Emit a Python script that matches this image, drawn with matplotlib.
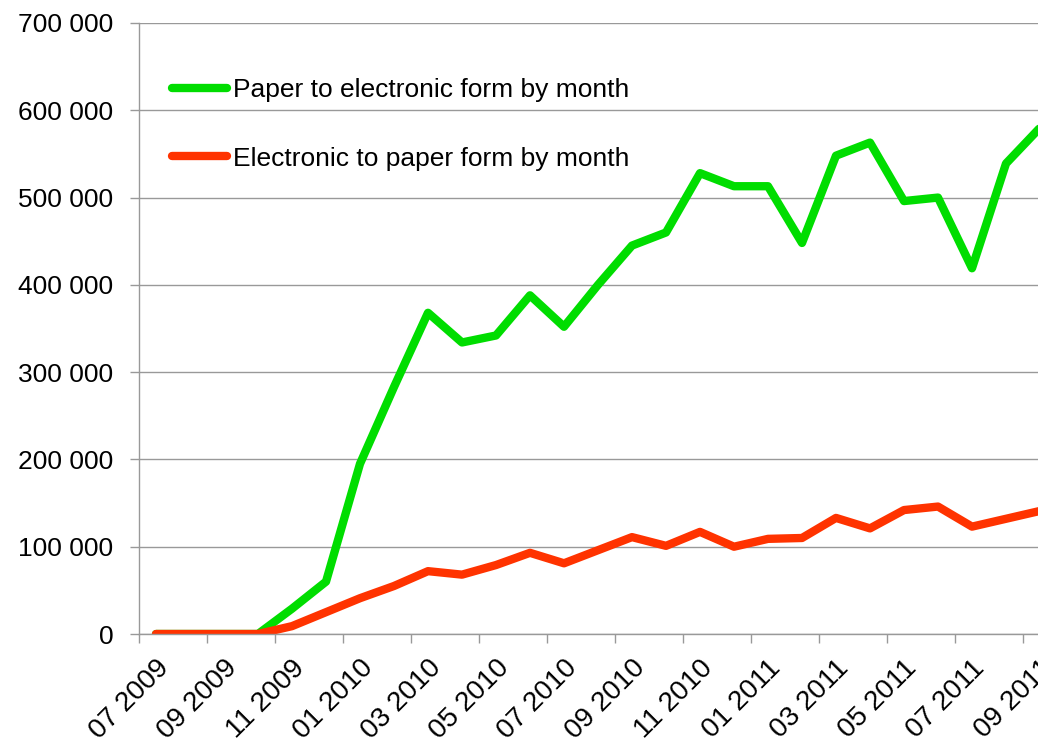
import matplotlib
matplotlib.use("Agg")
import matplotlib.pyplot as plt
from matplotlib.ticker import FuncFormatter, FixedLocator

plt.rcParams['font.family'] = ['Liberation Sans', 'DejaVu Sans']

months = ["07 2009", "08 2009", "09 2009", "10 2009", "11 2009", "12 2009",
          "01 2010", "02 2010", "03 2010", "04 2010", "05 2010", "06 2010",
          "07 2010", "08 2010", "09 2010", "10 2010", "11 2010", "12 2010",
          "01 2011", "02 2011", "03 2011", "04 2011", "05 2011", "06 2011",
          "07 2011", "08 2011", "09 2011"]

paper_to_electronic = [0, 0, 0, 0, 29000, 60000,
                       195000, 283000, 368000, 334000, 342000, 388000,
                       352000, 400000, 445000, 460000, 528000, 513000,
                       513000, 448000, 548000, 563000, 496000, 500000,
                       419000, 539000, 580000]

electronic_to_paper = [0, 0, 0, 0, 9000, 25000,
                       41000, 55000, 72000, 68000, 79000, 93000,
                       81000, 96000, 111000, 101000, 117000, 100000,
                       109000, 110000, 133000, 121000, 142000, 146000,
                       123000, 132000, 141000]

label1 = "Paper to electronic form by month"
label2 = "Electronic to paper form by month"

GREEN = "#00DD00"
RED = "#FF3300"
GRID = "#999999"
FS = 19

fig = plt.figure(figsize=(10.38, 7.42), dpi=100)
W, H = 1038, 742
ax = fig.add_axes([139 / W, (H - 634) / H, 918 / W, 611 / H])

x = list(range(len(months)))
ax.plot(x, paper_to_electronic, color=GREEN, lw=6, solid_joinstyle='round',
        solid_capstyle='round', label=label1)
ax.plot(x, electronic_to_paper, color=RED, lw=6, solid_joinstyle='round',
        solid_capstyle='round', label=label2)

ax.set_xlim(-0.5, len(months) - 0.5)
ax.set_ylim(0, 700000)

# y axis
ax.set_yticks(range(0, 700001, 100000))
ax.yaxis.set_major_formatter(FuncFormatter(lambda v, p: f"{int(v):,}".replace(",", " ")))
ax.grid(axis='y', color=GRID, lw=1)
ax.set_axisbelow(True)
ax.tick_params(axis='y', length=6.5, width=1, color=GRID, pad=12,
               labelsize=FS, labelcolor='black')

# x axis: labels every 2 months at category centers, tick marks at boundaries
major = x[::2]
ax.xaxis.set_major_locator(FixedLocator(major))
ax.set_xticklabels(months[::2], rotation=45, ha='right', rotation_mode='anchor')
ax.xaxis.set_minor_locator(FixedLocator([i - 0.5 for i in range(0, len(months) + 1, 2)]))
ax.tick_params(axis='x', which='major', length=0, pad=15, labelsize=20, labelcolor='black')
ax.tick_params(axis='x', which='minor', length=6.5, width=1, color=GRID)

for s in ['top', 'right']:
    ax.spines[s].set_visible(False)
for s in ['left', 'bottom']:
    ax.spines[s].set_color(GRID)
    ax.spines[s].set_linewidth(1)

leg = ax.legend(loc='upper left', bbox_to_anchor=((172 - 139) / 918, (634 - 78) / 611),
                frameon=False, fontsize=FS, handlelength=2.1, handletextpad=0.2,
                labelspacing=1.69, borderpad=0, borderaxespad=0)

fig.savefig("out.png", dpi=100)
